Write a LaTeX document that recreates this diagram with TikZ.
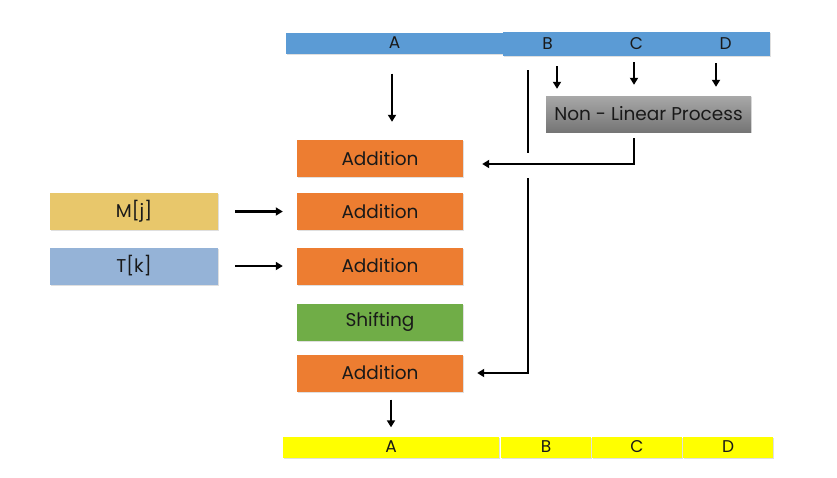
\documentclass[tikz,border=0pt]{standalone}
\usepackage{fontspec}
\setmainfont{Poppins}
\usetikzlibrary{arrows.meta,shadows}

\definecolor{barblue}{HTML}{5B9BD5}
\definecolor{addorange}{HTML}{ED7D31}
\definecolor{mgold}{HTML}{E8C76B}
\definecolor{tblue}{HTML}{95B3D7}
\definecolor{shiftgreen}{HTML}{70AD47}
\definecolor{baryellow}{HTML}{FFFF00}
\definecolor{greytop}{HTML}{A8A8A8}
\definecolor{greybot}{HTML}{757575}

\begin{document}
\begin{tikzpicture}[x=1pt,y=-1pt,
  box/.style={rectangle, inner sep=0pt, font=\fontsize{18.5}{20}\selectfont, text=black!90,
    drop shadow={opacity=0.25, shadow xshift=1pt, shadow yshift=-1pt}},
  bar/.style={box, minimum height=21pt, fill=#1, font=\fontsize{17}{18}\selectfont},
  opbox/.style={box, minimum width=166pt, minimum height=37pt, fill=#1},
  inbox/.style={box, minimum width=168pt, minimum height=37pt, fill=#1},
  arr/.style={-{Triangle[length=7pt,width=8pt]}, line width=2.8pt, black},
  wire/.style={line width=2.8pt, black}]
\useasboundingbox (0,0) rectangle (837,477);

% input word
\node [bar=barblue, minimum width=217pt] (topA) at (394.5,43) {A};
\node [bar=barblue, minimum width=89pt, minimum height=24pt] (topB) at (547.5,44) {B};
\node [bar=barblue, minimum width=89pt, minimum height=24pt] (topC) at (636.5,44) {C};
\node [bar=barblue, minimum width=89pt, minimum height=24pt] (topD) at (725.5,44) {D};

\node [box, minimum width=205pt, minimum height=36pt, top color=greytop, bottom color=greybot] (nlp) at (648.5,114) {Non - Linear Process};

% operations
\node [opbox=addorange] (add1) at (380,158.5) {Addition};
\node [opbox=addorange] (add2) at (380,211.5) {Addition};
\node [opbox=addorange] (add3) at (380,266) {Addition};
\node [opbox=shiftgreen] (shift) at (380,322) {Shifting};
\node [opbox=addorange] (add4) at (380,373) {Addition};

\node [inbox=mgold] (mj) at (134,211.5) {M[j]};
\node [inbox=tblue] (tk) at (134,266) {T[k]};

% output word
\node [bar=baryellow, minimum width=216pt] (botA) at (391,447) {A};
\node [bar=baryellow, minimum width=90pt] (botB) at (546,447) {B};
\node [bar=baryellow, minimum width=90pt] (botC) at (637,447) {C};
\node [bar=baryellow, minimum width=90pt] (botD) at (728,447) {D};

% B bypass with hop
\coordinate (bTop) at ([xshift=-19.5pt]topB.south);
\coordinate (hopA) at (528,153);
\coordinate (hopB) at (528,178);
\coordinate (bCorner) at (528,373);

\draw [arr, shorten <=20pt, shorten >=18pt] ([xshift=-2.5pt]topA.south) -- ([xshift=-2.5pt]topA.south |- add1.north);
\draw [wire, shorten <=14pt] (bTop) -- (hopA);
\draw [arr, shorten >=14pt] (hopB) -- (bCorner) -- (add4.east);

\draw [arr, shorten <=10pt, shorten >=7pt] ([xshift=9.5pt]topB.south) -- ([xshift=9.5pt]topB.south |- nlp.north);
\draw [arr, shorten <=6pt, shorten >=11pt] ([xshift=-2.5pt]topC.south) -- ([xshift=-2.5pt]topC.south |- nlp.north);
\draw [arr, shorten <=7pt, shorten >=9pt] ([xshift=-9.5pt]topD.south) -- ([xshift=-9.5pt]topD.south |- nlp.north);

\draw [arr, shorten <=6pt, shorten >=19pt] ([xshift=-14.5pt]nlp.south) |- ([yshift=-5.5pt]add1.east);

\draw [arr, shorten <=17pt, shorten >=14pt] (mj.east) -- (add2.west);
\draw [arr, shorten <=17pt, shorten >=14pt] (tk.east) -- (add3.west);

\draw [arr, shorten <=8pt, shorten >=9pt] (botA.north |- add4.south) -- (botA.north);
\end{tikzpicture}
\end{document}
